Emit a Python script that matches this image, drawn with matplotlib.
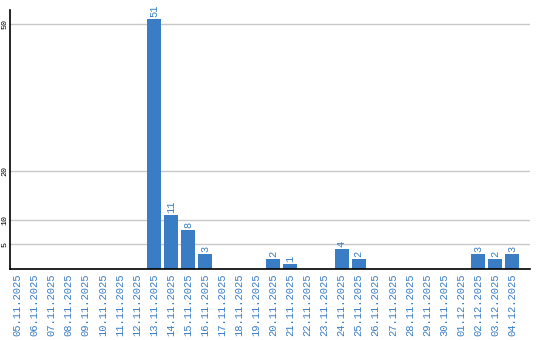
import matplotlib
matplotlib.use('Agg')
import matplotlib.pyplot as plt
import numpy as np

dates = ['05.11.2025', '06.11.2025', '07.11.2025', '08.11.2025', '09.11.2025',
         '10.11.2025', '11.11.2025', '12.11.2025', '13.11.2025', '14.11.2025',
         '15.11.2025', '16.11.2025', '17.11.2025', '18.11.2025', '19.11.2025',
         '20.11.2025', '21.11.2025', '22.11.2025', '23.11.2025', '24.11.2025',
         '25.11.2025', '26.11.2025', '27.11.2025', '28.11.2025', '29.11.2025',
         '30.11.2025', '01.12.2025', '02.12.2025', '03.12.2025', '04.12.2025']
counts = [0, 0, 0, 0, 0, 0, 0, 0, 51, 11, 8, 3, 0, 0, 0,
          2, 1, 0, 0, 4, 2, 0, 0, 0, 0, 0, 0, 3, 2, 3]
yticks = [5, 10, 20, 50]

blue = '#3a7dc4'
mono = 'Liberation Mono'

fig = plt.figure(figsize=(5.4, 3.4), dpi=100)
ax = fig.add_axes([10/540, 71/340, 520/540, 259/340])

x = np.arange(len(dates))
ax.bar(x, counts, width=0.82, color=blue, zorder=2)

for i, c in enumerate(counts):
    if c > 0:
        ax.text(i, c + 0.4, str(c), rotation=90, ha='center', va='bottom',
                color=blue, fontsize=7.5, family=mono)

ax.set_xlim(-0.45, 30.05)
ax.set_ylim(0, 52.8)
ax.set_yticks(yticks)
ax.set_yticklabels([str(t) for t in yticks], rotation=90, va='center',
                   fontsize=6, family=mono)
ax.set_xticks(x)
ax.set_xticklabels(dates, rotation=90, color=blue, fontsize=7.6, family=mono)
ax.tick_params(axis='both', length=0, pad=3)
ax.tick_params(axis='y', pad=1)
ax.grid(axis='y', color='#c8c8c8', linewidth=1, zorder=0)
for s in ['top', 'right']:
    ax.spines[s].set_visible(False)
ax.spines['left'].set_linewidth(1.2)
ax.spines['bottom'].set_linewidth(1.2)

fig.savefig('out.png', dpi=100)
